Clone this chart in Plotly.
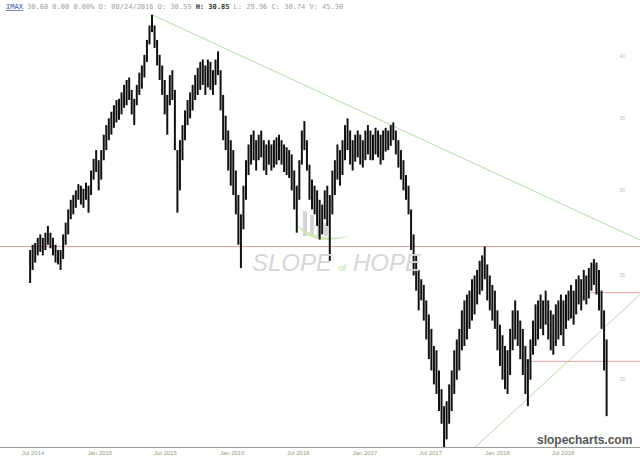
import pandas as pd
import plotly.graph_objects as go

# ---------------- data (weekly high / low) ----------------
week_start = "2014-06-23"
highs = [26.4, 26.7, 26.8, 27.1, 27.3, 27.1, 27.4, 27.8, 27.4, 27.1, 26.7, 26.4, 26.4, 27.3, 28.0, 28.8,
         29.4, 29.7, 30.0, 30.4, 30.3, 30.1, 30.5, 30.3, 31.3, 32.1, 32.7, 32.0, 32.7, 33.8, 34.5, 35.0,
         35.5, 36.0, 36.4, 36.5, 37.0, 37.6, 38.0, 38.2, 37.2, 36.5, 37.6, 38.6, 39.2, 40.1, 41.4, 42.7,
         43.7, 42.7, 41.4, 40.1, 39.2, 38.0, 36.8, 38.4, 38.8, 37.2, 32.7, 33.4, 34.5, 35.6, 36.4, 37.0,
         37.6, 38.4, 39.0, 39.5, 39.7, 39.2, 39.7, 39.5, 38.8, 39.7, 40.4, 38.8, 36.8, 35.2, 34.1, 33.4,
         32.7, 31.3, 29.7, 28.5, 30.3, 32.0, 33.1, 33.8, 34.1, 33.4, 33.8, 34.1, 33.4, 33.1, 33.4, 33.1,
         33.4, 33.6, 33.8, 33.4, 33.1, 32.9, 32.7, 32.4, 31.3, 30.3, 32.0, 34.1, 34.8, 33.4, 31.7, 30.7,
         30.3, 30.0, 29.4, 29.1, 30.0, 30.3, 29.7, 31.3, 32.0, 33.1, 32.7, 33.4, 34.5, 35.0, 34.1, 33.4,
         33.8, 34.1, 33.8, 33.4, 34.1, 34.5, 34.1, 33.8, 34.3, 34.1, 33.8, 34.1, 34.3, 34.1, 34.5, 34.7,
         34.1, 33.4, 32.7, 32.0, 31.0, 30.3, 28.8, 27.3, 26.1, 25.3, 24.8, 24.5, 23.7, 23.0, 22.3, 21.5,
         21.3, 20.4, 19.6, 18.9, 19.1, 19.8, 20.4, 21.3, 21.8, 22.3, 23.2, 23.7, 24.0, 24.2, 24.8, 25.0,
         25.3, 25.8, 26.1, 26.6, 25.6, 25.0, 24.5, 24.2, 23.2, 22.5, 22.0, 21.5, 21.3, 22.3, 23.2, 23.7,
         23.2, 22.7, 22.3, 21.5, 20.9, 21.8, 22.7, 23.5, 23.7, 24.0, 23.7, 24.2, 23.7, 23.2, 23.0, 23.5,
         23.7, 24.0, 23.7, 24.0, 24.2, 24.5, 24.2, 24.8, 25.0, 24.8, 25.3, 25.0, 25.4, 25.7, 25.9, 25.7,
         25.3, 24.2, 23.2, 21.8]
lows = [24.6, 25.3, 25.7, 26.1, 26.3, 26.1, 26.4, 26.7, 26.5, 26.1, 25.7, 25.6, 25.3, 25.9, 26.7, 27.3,
        28.2, 28.5, 28.9, 29.4, 29.1, 28.9, 29.4, 28.6, 29.7, 30.7, 31.2, 30.0, 30.7, 32.0, 32.7, 33.4,
        33.8, 34.3, 34.7, 34.9, 35.3, 35.8, 36.0, 36.4, 35.3, 34.5, 36.0, 36.8, 37.3, 38.2, 39.5, 41.0,
        42.1, 40.7, 39.2, 38.0, 36.8, 35.3, 33.8, 36.0, 36.4, 32.7, 28.6, 30.0, 32.0, 33.4, 34.5, 35.0,
        35.6, 36.4, 36.8, 37.2, 37.6, 36.8, 37.4, 37.2, 36.8, 37.6, 38.4, 35.6, 33.4, 32.7, 31.3, 30.3,
        29.7, 28.5, 26.7, 25.4, 27.6, 29.4, 31.0, 31.7, 32.0, 31.3, 32.0, 32.2, 31.3, 31.0, 31.7, 31.3,
        31.5, 31.7, 32.0, 31.7, 31.2, 31.0, 30.8, 30.0, 28.8, 27.4, 29.4, 31.7, 32.7, 31.3, 29.4, 28.8,
        28.5, 27.8, 27.0, 27.3, 28.2, 27.8, 25.8, 28.5, 29.7, 30.7, 30.3, 31.0, 32.0, 32.7, 31.7, 31.3,
        31.9, 32.2, 31.7, 31.5, 32.0, 32.4, 32.0, 32.0, 32.4, 32.2, 31.7, 32.0, 32.6, 32.7, 33.0, 33.4,
        32.4, 31.5, 30.7, 30.0, 29.4, 28.5, 26.4, 25.0, 24.2, 23.2, 23.7, 22.7, 21.8, 20.9, 20.4, 19.8,
        19.4, 18.7, 18.2, 17.3, 17.6, 18.2, 18.7, 19.4, 20.0, 20.4, 21.3, 21.5, 21.8, 22.3, 22.7, 23.0,
        23.5, 24.0, 24.2, 24.8, 23.7, 23.2, 22.7, 22.3, 21.3, 20.6, 20.0, 19.6, 19.4, 20.2, 21.3, 21.8,
        21.5, 20.9, 20.2, 19.4, 18.9, 20.0, 21.1, 21.5, 21.8, 22.3, 22.0, 22.5, 21.8, 21.3, 21.1, 21.5,
        21.8, 22.0, 21.5, 22.3, 22.7, 22.8, 22.5, 23.0, 23.5, 23.2, 23.7, 23.5, 23.8, 24.2, 24.5, 24.0,
        23.2, 22.3, 20.4, 18.5]

# horizontal levels (price, start date) and trend lines
level_prices = [26.6, 24.1, 20.8]
level_starts = ["2014-04-01", "2018-09-13", "2018-03-18"]
upper_trend_dates = ["2015-05-25", "2019-01-29"]
upper_trend_prices = [43.7, 26.97]
lower_trend_dates = ["2017-10-31", "2019-01-29"]
lower_trend_prices = [17.3, 24.0]

x_tick_vals = ["2014-07-01", "2015-01-01", "2015-07-01", "2016-01-01", "2016-07-01",
               "2017-01-01", "2017-07-01", "2018-01-01", "2018-07-01"]
x_tick_text = ["Jul 2014", "Jan 2015", "Jul 2015", "Jan 2016", "Jul 2016",
               "Jan 2017", "Jul 2017", "Jan 2018", "Jul 2018"]
y_tick_vals = [20, 25, 30, 35, 40]

X_RANGE = ["2014-04-01", "2019-01-29"]
Y_RANGE_LOG = [1.23845, 1.65414]

# ---------------- figure ----------------
dates = pd.date_range(week_start, periods=len(highs), freq="7D")
bx, by = [], []
for d, h, l in zip(dates, highs, lows):
    bx += [d, d, None]
    by += [l, h, None]

fig = go.Figure()

# levels
for p, s in zip(level_prices, level_starts):
    fig.add_trace(go.Scatter(x=[s, X_RANGE[1]], y=[p, p], mode="lines",
                             line=dict(color="#e9a3a3", width=1), hoverinfo="skip"))
fig.add_trace(go.Scatter(x=upper_trend_dates, y=upper_trend_prices, mode="lines",
                         line=dict(color="#b3dca8", width=1), hoverinfo="skip"))
fig.add_trace(go.Scatter(x=lower_trend_dates, y=lower_trend_prices, mode="lines",
                         line=dict(color="#b3dca8", width=1), hoverinfo="skip"))

# price bars
fig.add_trace(go.Scatter(x=bx, y=by, mode="lines", line=dict(color="#111111", width=2),
                         connectgaps=False, hoverinfo="skip"))

W, H, B = 640, 467, 20
PH = H - B


def px(x):
    return x / W


def py(y):
    return (PH - y) / PH


shapes = []
# watermark logo bars
for i, (x0, top) in enumerate([(303, 211), (310, 215), (317, 219), (324, 223)]):
    shapes.append(dict(type="rect", xref="paper", yref="paper", x0=px(x0), x1=px(x0 + 4),
                       y0=py(236), y1=py(top), fillcolor="#d4d4d4", line=dict(width=0), layer="below"))
# green swoosh
shapes.append(dict(type="path", xref="paper", yref="paper",
                   path=f"M {px(296)},{py(224)} Q {px(312)},{py(248)} {px(350)},{py(236)} "
                        f"Q {px(316)},{py(242)} {px(296)},{py(224)} Z",
                   fillcolor="#cfe6bd", line=dict(width=0), layer="below"))

annotations = [
    dict(xref="paper", yref="paper", x=px(337), y=py(262), xanchor="center", yanchor="middle",
         text="<i>SLOPE</i> <span style='font-size:9px;color:#b9dca6'>of</span> <i>HOPE</i>",
         showarrow=False, font=dict(family="Liberation Sans", size=24, color="#d6d6d6")),
    dict(xref="paper", yref="paper", x=px(584), y=py(440), xanchor="center", yanchor="middle",
         text="<b>slopecharts.com</b>", showarrow=False,
         font=dict(family="Liberation Sans", size=12, color="#555555")),
    dict(xref="paper", yref="paper", x=px(4), y=py(7), xanchor="left", yanchor="middle",
         text="<span style='color:#3a55a0'><u>IMAX</u></span> 30.68 0.00 0.00% D: 08/24/2016 O: 30.59 "
              "<b><span style='color:#333'>H: 30.85</span></b> L: 29.96 C: 30.74 V: 45.30",
         showarrow=False, font=dict(family="DejaVu Sans Mono", size=7, color="#a0a0a0")),
]

fig.update_layout(
    width=W, height=H,
    margin=dict(l=0, r=0, t=0, b=B, autoexpand=False),
    paper_bgcolor="white", plot_bgcolor="white",
    showlegend=False,
    shapes=shapes, annotations=annotations,
    xaxis=dict(type="date", range=X_RANGE, tickvals=x_tick_vals, ticktext=x_tick_text,
               showgrid=False, zeroline=False, showline=True, linecolor="#9a9a9a", linewidth=1,
               ticks="", tickfont=dict(family="Liberation Sans", size=6, color="#8fa07f")),
    yaxis=dict(type="log", range=Y_RANGE_LOG, side="right", tickvals=y_tick_vals,
               ticklabelposition="inside", ticklabelstandoff=12, showgrid=False, zeroline=False,
               showline=False, ticks="", tickfont=dict(family="Liberation Sans", size=5, color="#bdbdbd")),
)

fig.write_html("out.html", config={"displayModeBar": False},
               post_script="document.body.style.margin='0';document.body.style.overflow='hidden';")
